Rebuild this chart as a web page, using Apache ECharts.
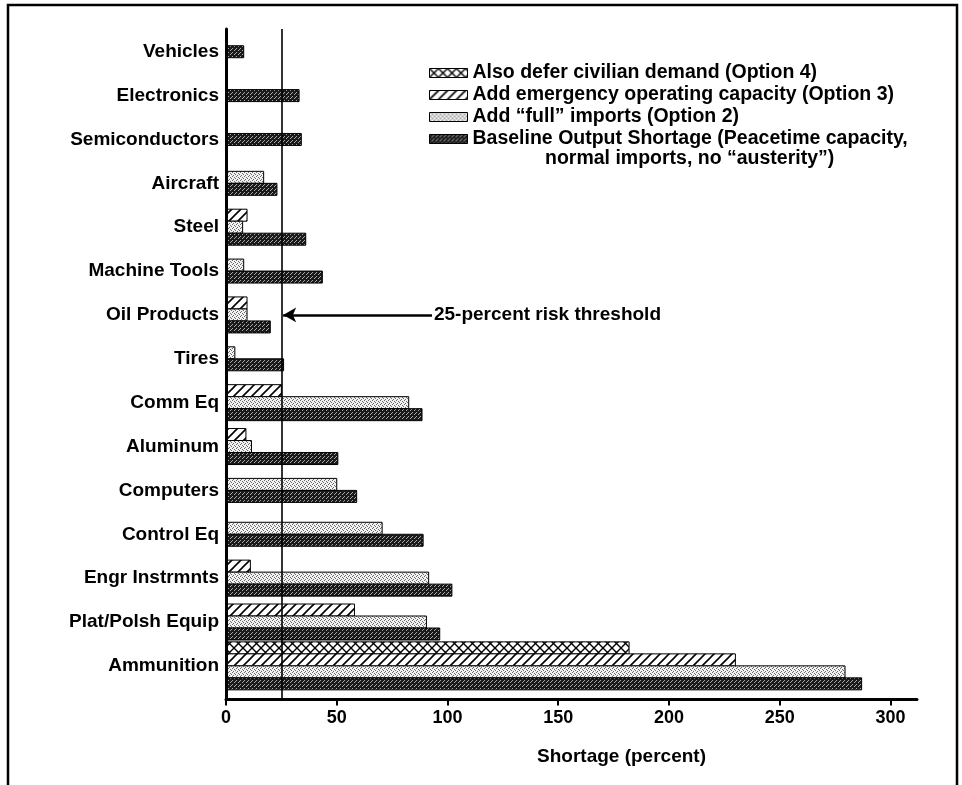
<!DOCTYPE html>
<html>
<head>
<meta charset="utf-8">
<script src="https://cdn.jsdelivr.net/npm/echarts@6/dist/echarts.min.js"></script>
<style>
  html, body { margin: 0; padding: 0; background: #fff; }
  #chart { width: 962px; height: 785px; }
</style>
</head>
<body>
<div id="chart"></div>
<script>
// ---------------- data ----------------
const categories = ['Vehicles', 'Electronics', 'Semiconductors', 'Aircraft', 'Steel',
  'Machine Tools', 'Oil Products', 'Tires', 'Comm Eq', 'Aluminum', 'Computers',
  'Control Eq', 'Engr Instrmnts', 'Plat/Polsh Equip', 'Ammunition'];

const seriesNames = [
  'Also defer civilian demand (Option 4)',
  'Add emergency operating capacity (Option 3)',
  'Add \u201cfull\u201d imports (Option 2)',
  'Baseline Output Shortage (Peacetime capacity,'
];
const baselineSecondLine = 'normal imports, no \u201causterity\u201d)';

const option4  = [null, null, null, null, null, null, null, null, null, null, null, null, null, null, 182];
const option3  = [null, null, null, null, 9.5, null, 9.5, null, 25, 9, null, null, 11, 58, 230];
const option2  = [null, null, null, 17, 7.5, 8, 9.5, 4, 82.5, 11.5, 50, 70.5, 91.5, 90.5, 279.5];
const baseline = [8, 33, 34, 23, 36, 43.5, 20, 26, 88.5, 50.5, 59, 89, 102, 96.5, 287];

const thresholdValue = 25;
const thresholdLabel = '25-percent risk threshold';
const arrowEndValue = 93;
const arrowCategory = 'Oil Products';

const xTickInterval = 50;
const xMin = 0, xMax = 312;
const xAxisName = 'Shortage (percent)';

// ---------------- styles ----------------
const FONT = '"Liberation Sans", Arial, Helvetica, sans-serif';
const BAR_H = 12;

function tile(w, h, draw) {
  const c = document.createElement('canvas');
  c.width = w; c.height = h;
  const ctx = c.getContext('2d');
  draw(ctx, w, h);
  return { image: c, repeat: 'repeat' };
}
const patCross = tile(9, 9, (ctx, w, h) => {
  ctx.fillStyle = '#fff'; ctx.fillRect(0, 0, w, h);
  ctx.strokeStyle = '#000'; ctx.lineWidth = 1.4;
  ctx.beginPath();
  ctx.moveTo(0, 0); ctx.lineTo(w, h);
  ctx.moveTo(w, 0); ctx.lineTo(0, h);
  ctx.stroke();
});
const patHatch = tile(9, 9, (ctx, w, h) => {
  ctx.fillStyle = '#fff'; ctx.fillRect(0, 0, w, h);
  ctx.strokeStyle = '#000'; ctx.lineWidth = 1.6;
  ctx.beginPath();
  ctx.moveTo(-1, h + 1); ctx.lineTo(w + 1, -1);
  ctx.moveTo(-2, 2); ctx.lineTo(2, -2);
  ctx.moveTo(w - 2, h + 2); ctx.lineTo(w + 2, h - 2);
  ctx.stroke();
});
const patLight = tile(4, 4, (ctx, w, h) => {
  ctx.fillStyle = '#f2f2f2'; ctx.fillRect(0, 0, w, h);
  ctx.fillStyle = '#6a6a6a';
  [[0, 0], [2, 1], [1, 3], [3, 2]].forEach(p => ctx.fillRect(p[0], p[1], 1, 1));
});
const patDark = tile(4, 4, (ctx, w, h) => {
  ctx.fillStyle = '#1a1a1a'; ctx.fillRect(0, 0, w, h);
  ctx.fillStyle = '#a8a8a8';
  [[0, 0], [2, 2], [3, 1]].forEach(p => ctx.fillRect(p[0], p[1], 1, 1));
});
const patterns = [patCross, patHatch, patLight, patDark];
const allValues = [option4, option3, option2, baseline];

function makeRender(sIdx) {
  return function (params, api) {
    const val = api.value(0);
    const ci = api.value(1);
    const present = [];
    allValues.forEach((arr, k) => { if (arr[ci] != null) present.push(k); });
    const n = present.length;
    const rank = present.indexOf(sIdx);
    const p0 = api.coord([0, ci]);
    const p1 = api.coord([val, ci]);
    const y = p0[1] - n * BAR_H / 2 + rank * BAR_H;
    return {
      type: 'rect',
      shape: { x: p0[0], y: y, width: p1[0] - p0[0], height: BAR_H },
      style: { fill: patterns[sIdx], stroke: '#000', lineWidth: 1 }
    };
  };
}

const customSeries = allValues.map((arr, k) => ({
  name: seriesNames[k],
  type: 'custom',
  xAxisIndex: 0,
  yAxisIndex: 0,
  z: 2,
  renderItem: makeRender(k),
  encode: { x: 0, y: 1 },
  itemStyle: { color: patterns[k], borderColor: '#000', borderWidth: 1 },
  data: arr.map((v, i) => [v, i]).filter(d => d[0] != null)
}));

// legend geometry
const LEG_LEFT = 429, LEG_ICON_W = 38, LEG_TOP = 62, LEG_LINE = 22, LEG_FONT = 19.5;
const measure = document.createElement('canvas').getContext('2d');
measure.font = 'bold ' + LEG_FONT + 'px ' + FONT;
const firstLineW = measure.measureText(seriesNames[3]).width;

const chart = echarts.init(document.getElementById('chart'), null, { renderer: 'canvas' });
chart.setOption({
  animation: false,
  backgroundColor: '#fff',
  textStyle: { fontFamily: FONT },
  grid: [
    { left: 226, right: 45, top: 29.8, height: 658 },
    { left: 226, right: 45, top: 29, bottom: 85.5 }
  ],
  xAxis: [
    { gridIndex: 0, type: 'value', min: xMin, max: xMax, show: false },
    {
      gridIndex: 1, type: 'value', min: xMin, max: xMax, interval: xTickInterval,
      axisLine: { show: true, lineStyle: { color: '#000', width: 3 } },
      axisTick: { show: true, inside: false, length: 6, lineStyle: { color: '#000', width: 2 } },
      axisLabel: { showMaxLabel: false, margin: 10, color: '#000', fontSize: 18, fontWeight: 'bold', fontFamily: FONT },
      splitLine: { show: false },
      name: xAxisName, nameLocation: 'middle', nameGap: 48,
      nameTextStyle: { color: '#000', fontSize: 19, fontWeight: 'bold', fontFamily: FONT, padding: [0, 0, 0, 100] },
      z: 4
    }
  ],
  yAxis: [
    {
      gridIndex: 0, type: 'category', data: categories, inverse: true,
      axisLine: { show: false }, axisTick: { show: false },
      axisLabel: { margin: 7, color: '#000', fontSize: 19, fontWeight: 'bold', fontFamily: FONT },
      splitLine: { show: false }
    },
    {
      gridIndex: 1, type: 'value', min: 0, max: 1,
      axisLine: { show: true, lineStyle: { color: '#000', width: 3 } },
      axisTick: { show: false }, axisLabel: { show: false }, splitLine: { show: false },
      z: 4
    }
  ],
  legend: {
    data: seriesNames,
    orient: 'vertical',
    left: LEG_LEFT, top: LEG_TOP,
    padding: 0,
    itemWidth: LEG_ICON_W, itemHeight: 9, itemGap: 0,
    icon: 'rect',
    selectedMode: false,
    itemStyle: { borderColor: '#000', borderWidth: 1 },
    textStyle: { color: '#000', fontSize: LEG_FONT, fontWeight: 'bold', fontFamily: FONT, lineHeight: LEG_LINE }
  },
  graphic: [
    {
      type: 'text', silent: true,
      x: LEG_LEFT + LEG_ICON_W + 5 + firstLineW / 2,
      y: LEG_TOP + 3.5 * LEG_LINE - 2 + LEG_LINE,
      style: {
        text: baselineSecondLine, fill: '#000', font: 'bold ' + LEG_FONT + 'px ' + FONT,
        textAlign: 'center', textVerticalAlign: 'middle'
      }
    },
    {
      type: 'rect', silent: true, z: 10,
      shape: { x: 8, y: 5, width: 949, height: 800 },
      style: { fill: 'none', stroke: '#000', lineWidth: 2.5 }
    }
  ],
  series: customSeries.concat([
    {
      type: 'line', xAxisIndex: 1, yAxisIndex: 1, data: [], z: 5, silent: true,
      markLine: {
        silent: true, symbol: 'none', animation: false,
        label: { show: false },
        lineStyle: { color: '#000', width: 1.6, type: 'solid' },
        data: [{ xAxis: thresholdValue }]
      }
    },
    {
      type: 'line', xAxisIndex: 0, yAxisIndex: 0, data: [], z: 5, silent: true,
      markLine: {
        silent: true, animation: false,
        symbol: ['arrow', 'none'], symbolSize: [11, 13],
        lineStyle: { color: '#000', width: 2.5, type: 'solid' },
        label: {
          show: true, position: 'end', distance: 2, formatter: thresholdLabel,
          color: '#000', fontSize: 19, fontWeight: 'bold', fontFamily: FONT
        },
        data: [[
          { coord: [thresholdValue + 0.8, arrowCategory] },
          { coord: [arrowEndValue, arrowCategory] }
        ]]
      }
    }
  ])
});
</script>
</body>
</html>
